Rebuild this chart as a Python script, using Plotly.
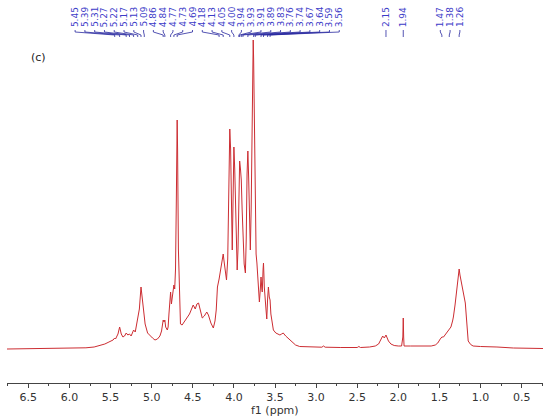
import plotly.graph_objects as go

# ---- spectrum data (chemical shift in ppm, intensity in arbitrary units) ----
ppm = [6.76, 6.5, 6.2, 6.0, 5.8, 5.7, 5.62, 5.57, 5.52, 5.48,
       5.47, 5.45, 5.44, 5.41, 5.39, 5.37, 5.35, 5.33, 5.31, 5.29, 5.27, 5.25,
       5.22, 5.20, 5.18, 5.17, 5.15, 5.13, 5.11, 5.09, 5.08, 5.05, 5.02, 4.99,
       4.96, 4.93, 4.90, 4.88, 4.86, 4.85, 4.84, 4.83, 4.81, 4.80, 4.79, 4.77,
       4.76, 4.74, 4.73, 4.72, 4.71, 4.70, 4.69, 4.685, 4.675, 4.66, 4.65,
       4.63, 4.60, 4.57, 4.54, 4.51, 4.495, 4.47, 4.45, 4.43, 4.41, 4.385,
       4.36, 4.33, 4.31, 4.28, 4.25, 4.23, 4.215, 4.20, 4.18, 4.16, 4.14,
       4.13, 4.12, 4.10, 4.09, 4.075, 4.06, 4.05, 4.04, 4.03, 4.02, 4.01,
       4.00, 3.99, 3.975, 3.96, 3.95, 3.94, 3.93, 3.92, 3.91, 3.90, 3.89,
       3.875, 3.86, 3.85, 3.84, 3.83, 3.82, 3.81, 3.80, 3.79, 3.78, 3.77,
       3.765, 3.76, 3.75, 3.74, 3.73, 3.72, 3.71, 3.69, 3.68, 3.67, 3.66,
       3.655, 3.645, 3.64, 3.635, 3.63, 3.61, 3.60, 3.59, 3.58, 3.57, 3.56,
       3.55, 3.54, 3.52, 3.49, 3.46, 3.44, 3.42, 3.40, 3.37, 3.33, 3.29,
       3.25, 3.20, 3.1, 3.0, 2.93, 2.91, 2.89, 2.7, 2.5, 2.48, 2.46, 2.35,
       2.28, 2.24, 2.21, 2.19, 2.17, 2.15, 2.14, 2.12, 2.09, 2.05, 2.0, 1.96,
       1.945, 1.94, 1.935, 1.93, 1.85, 1.7, 1.60, 1.55, 1.52, 1.49, 1.47,
       1.45, 1.43, 1.40, 1.38, 1.36, 1.34, 1.33, 1.31, 1.295, 1.28, 1.27,
       1.26, 1.25, 1.235, 1.22, 1.21, 1.195, 1.185, 1.175, 1.16, 1.15, 1.12,
       1.09, 1.0, 0.9, 0.85, 0.8, 0.6, 0.24]
intensity = [0, 0.3, 0.5, 0.8, 1.2, 2, 3.5, 5, 7, 9,
             9, 11, 10, 15, 22, 15, 12, 13, 16, 14, 15, 13,
             19, 17, 26, 33, 40, 62, 45, 33, 25, 16, 13, 11,
             9, 10, 13, 18, 29, 27, 29, 22, 19, 22, 35, 57,
             45, 55, 64, 60, 80, 150, 229, 200, 100, 40, 25,
             24, 28, 31, 35, 41, 44, 40, 45, 46, 38, 31,
             33, 37, 34, 26, 21, 28, 39, 62, 70, 80, 92,
             95, 88, 72, 69, 90, 160, 220, 200, 130, 99, 150,
             202, 180, 110, 79, 100, 142, 188, 180, 169, 140, 107,
             85, 76, 110, 175, 198, 170, 120, 99, 140, 230, 300,
             309, 290, 200, 120, 95, 86, 70, 47, 58, 72, 60,
             57, 80, 86, 75, 62, 40, 30, 50, 62, 52, 49,
             35, 28, 19, 16, 15, 14, 15, 16, 13, 10, 7,
             4, 2.5, 2, 1.8, 1.8, 3, 1.8, 1.5, 1.5, 2.5, 1.5, 2,
             3, 5, 9, 13, 11, 14, 12, 8, 5, 3.5, 3, 3,
             12, 31, 12, 3, 3, 3, 3, 4, 6, 10, 12,
             12, 14, 18, 20, 22, 28, 32, 44, 56, 70, 76,
             80, 74, 67, 62, 57, 52, 46, 35, 16, 8, 4.5,
             3, 2.5, 2.3, 2.5, 2, 1, 0.5]

# picked peaks, grouped as displayed
peak_groups = [
    [5.45, 5.39, 5.31, 5.27, 5.22, 5.17, 5.13, 5.09, 4.86, 4.84, 4.77, 4.73,
     4.69, 4.18, 4.13, 4.05, 4.00, 3.94, 3.93, 3.91, 3.89, 3.83, 3.76, 3.74,
     3.67, 3.64, 3.59, 3.56],
    [2.15],
    [1.94],
    [1.47, 1.38, 1.26],
]
group_centers = [4.325, None, None, None]
label_gap = 0.119

x_range = [6.76, 0.24]
y_range = [-34, 349]
plot_h = 383
plot_l, plot_w = 7, 536


def py(px):
    return (plot_h - px) / plot_h


def slots(vals, center):
    n = len(vals)
    if center is None:
        center = sum(vals) / n
    if n == 1:
        return [center]
    return [center + ((n - 1) / 2 - i) * label_gap for i in range(n)]


fig = go.Figure()
fig.add_trace(go.Scatter(x=ppm, y=intensity, mode="lines",
                         line=dict(color="rgb(204,45,50)", width=1),
                         hoverinfo="skip", showlegend=False))

annotations = []
shapes = []
lab_col = "rgb(60,60,200)"
con_col = "rgb(40,40,160)"
for grp, c in zip(peak_groups, group_centers):
    sl = slots(grp, c)
    for v, s in zip(grp, sl):
        annotations.append(dict(x=s, y=py(29), xref="x", yref="paper",
                                text=f"{v:.2f}", textangle=-90, showarrow=False,
                                xanchor="center", yanchor="bottom",
                                font=dict(family="DejaVu Sans", size=9, color=lab_col)))
        shapes.append(dict(type="path", xref="x", yref="paper",
                           path=f"M {s},{py(30)} L {s},{py(32)} L {v},{py(35)} L {v},{py(37)}",
                           line=dict(color=con_col, width=0.8)))

annotations.append(dict(x=(38 - plot_l) / plot_w, y=py(58), xref="paper", yref="paper",
                        text="(c)", showarrow=False, xanchor="center", yanchor="middle",
                        font=dict(family="DejaVu Sans", size=11, color="#222")))
annotations.append(dict(x=0.5, y=py(410), xref="paper", yref="paper",
                        text="f1 (ppm)", showarrow=False, xanchor="center", yanchor="middle",
                        font=dict(family="DejaVu Sans", size=11, color="#333")))

fig.update_layout(
    width=550, height=418,
    margin=dict(l=plot_l, r=550 - plot_l - plot_w, t=0, b=418 - plot_h),
    paper_bgcolor="white", plot_bgcolor="white",
    annotations=annotations, shapes=shapes,
    xaxis=dict(range=x_range, showgrid=False, zeroline=False,
               showline=True, linecolor="#444", linewidth=1,
               ticks="outside", ticklen=4, tickcolor="#444",
               tick0=0.5, dtick=0.5, tickformat=".1f",
               minor=dict(ticks="outside", ticklen=2, dtick=0.25, tick0=0.5, tickcolor="#444"),
               tickfont=dict(family="DejaVu Sans", size=11, color="#333")),
    yaxis=dict(range=y_range, visible=False),
)

fig.write_html("out.html", config={"displayModeBar": False},
               post_script="document.body.style.margin='0px';document.body.style.overflow='hidden';")
